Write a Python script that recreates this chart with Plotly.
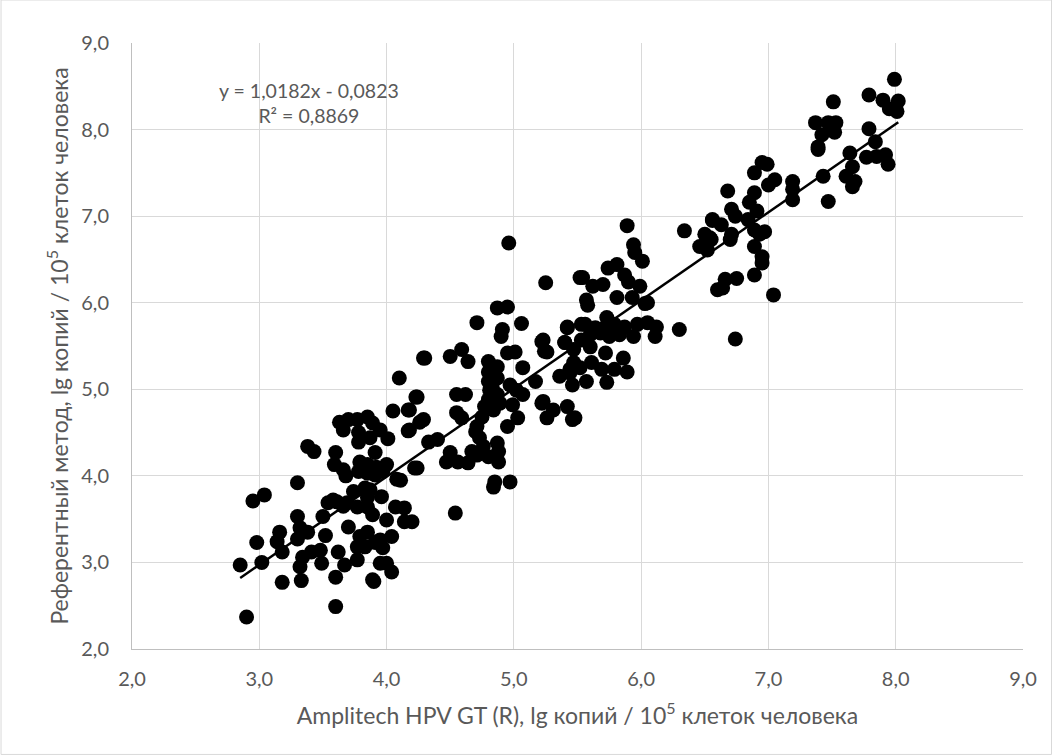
import plotly.graph_objects as go

# Data
amplitech_x = [
    2.85, 2.90, 2.95, 3.04, 2.98, 3.02, 3.16, 3.14, 3.18, 3.18, 3.30, 3.38, 3.43, 3.30, 3.32,
    3.38, 3.30, 3.34, 3.32, 3.33, 3.41, 3.48, 3.49, 3.52, 3.50, 3.54, 3.58, 3.61, 3.66, 3.62,
    3.60, 3.60, 3.70, 3.67, 3.60, 3.59, 3.66, 3.68, 3.63, 3.66, 3.70, 3.77, 3.85, 3.89, 3.95,
    3.78, 3.78, 3.87, 4.01, 4.05, 4.18, 4.24, 4.26, 3.91, 3.79, 3.85, 3.92, 4.00, 3.78, 3.85,
    3.91, 3.97, 4.08, 4.22, 3.74, 3.83, 3.87, 3.85, 3.96, 3.69, 3.77, 3.85, 3.89, 4.00, 4.07,
    3.79, 3.85, 3.77, 3.83, 3.91, 3.95, 4.04, 3.97, 3.77, 3.95, 4.00, 4.04, 3.89, 3.90, 4.14,
    4.20, 4.10, 4.29, 4.17,
    4.87, 4.95, 4.71, 4.91, 4.90, 5.06, 5.42, 5.53, 5.22, 5.26, 5.40, 4.30, 4.50, 4.59, 4.64,
    4.80, 4.95, 5.01, 5.07, 4.80, 4.87, 4.80, 4.87, 4.97, 5.02, 5.07, 5.17, 5.36, 5.44, 5.46,
    4.81, 4.87, 4.80, 4.84, 4.99, 5.03, 4.95, 5.22, 5.31, 5.26, 5.42, 5.46, 4.55, 4.62, 4.55,
    4.59, 4.23, 4.17, 4.29, 4.18, 4.33, 4.40, 4.24, 4.70, 4.73, 4.67, 4.76, 4.50, 4.47, 4.56,
    4.64, 4.71, 4.80, 4.87, 4.88, 4.88, 4.85, 4.84, 4.97, 4.54, 4.11, 4.14, 4.83, 4.89, 4.77,
    4.75, 4.71, 4.96, 5.25, 5.52,
    5.89, 6.34, 6.56, 6.50, 6.46, 6.55, 5.94, 5.95, 6.01, 5.74, 5.81, 5.87, 5.90, 5.99, 5.54,
    5.62, 5.70, 5.57, 5.58, 5.81, 5.93, 6.05, 5.73, 5.56, 5.64, 5.72, 5.79, 5.87, 5.97, 6.05,
    6.12, 6.11, 6.30, 5.94, 5.83, 5.75, 5.68, 5.60, 5.42, 5.53, 5.23, 5.40, 5.24, 5.47, 5.60,
    5.72, 5.86, 5.47, 5.61, 5.52, 5.79, 5.89, 5.69, 5.44, 5.57, 5.73, 5.23, 5.48, 6.60, 6.03,
    6.74,
    6.95, 6.99, 6.89, 7.05, 7.00, 7.19, 7.19, 7.19, 7.43, 7.47, 7.39, 6.68, 6.89, 6.85, 6.91,
    6.71, 6.74, 6.84, 6.56, 6.63, 6.54, 6.71, 6.70, 6.52, 6.89, 6.97, 6.93, 6.89, 6.95, 6.95,
    6.89, 6.66, 6.75, 6.64, 7.04,
    7.99, 7.79, 7.90, 8.02, 7.95, 8.01, 7.51, 7.37, 7.47, 7.53, 7.50, 7.42, 7.52, 7.39, 7.79,
    7.84, 7.64, 7.77, 7.85, 7.92, 7.94, 7.66, 7.61, 7.68, 7.66,
]
reference_y = [
    2.97, 2.37, 3.71, 3.78, 3.23, 3.00, 3.35, 3.24, 3.12, 2.77, 3.92, 4.34, 4.28, 3.53, 3.40,
    3.35, 3.27, 3.06, 2.95, 2.79, 3.12, 3.14, 2.99, 3.31, 3.53, 3.69, 3.72, 3.70, 3.65, 3.12,
    2.83, 2.49, 3.41, 2.97, 4.27, 4.13, 4.07, 4.00, 4.62, 4.53, 4.65, 4.65, 4.68, 4.61, 4.53,
    4.50, 4.39, 4.44, 4.43, 4.75, 4.76, 4.91, 4.62, 4.27, 4.16, 4.13, 4.10, 4.13, 4.05, 4.03,
    4.01, 4.05, 3.96, 4.09, 3.82, 3.86, 3.84, 3.75, 3.76, 3.69, 3.64, 3.64, 3.55, 3.49, 3.64,
    3.30, 3.35, 3.18, 3.18, 3.23, 3.26, 3.30, 3.17, 3.03, 2.99, 2.99, 2.89, 2.80, 2.78, 3.47,
    3.47, 5.13, 5.36, 4.52,
    5.94, 5.95, 5.77, 5.69, 5.61, 5.76, 5.71, 5.75, 5.55, 5.43, 5.54, 5.36, 5.38, 5.46, 5.32,
    5.32, 5.42, 5.43, 5.25, 5.20, 5.26, 5.09, 5.13, 5.05, 4.99, 4.94, 5.09, 5.15, 5.23, 5.05,
    4.99, 4.94, 4.88, 4.76, 4.82, 4.67, 4.57, 4.84, 4.76, 4.67, 4.80, 4.65, 4.94, 4.94, 4.73,
    4.67, 4.91, 4.76, 4.65, 4.53, 4.39, 4.42, 4.09, 4.51, 4.44, 4.28, 4.34, 4.27, 4.16, 4.16,
    4.15, 4.24, 4.22, 4.38, 4.28, 4.16, 3.93, 3.87, 3.93, 3.57, 3.95, 3.63, 5.02, 4.84, 4.80,
    4.68, 4.57, 6.69, 6.23, 6.29,
    6.89, 6.83, 6.95, 6.79, 6.65, 6.73, 6.67, 6.58, 6.48, 6.40, 6.44, 6.32, 6.24, 6.19, 6.29,
    6.19, 6.21, 6.03, 5.97, 6.06, 6.06, 6.00, 5.83, 5.75, 5.71, 5.72, 5.75, 5.72, 5.75, 5.77,
    5.72, 5.61, 5.69, 5.61, 5.63, 5.61, 5.65, 5.63, 5.72, 5.57, 5.57, 5.54, 5.44, 5.46, 5.49,
    5.42, 5.36, 5.31, 5.31, 5.25, 5.23, 5.20, 5.23, 5.19, 5.09, 5.08, 4.86, 4.67, 6.15, 5.99,
    5.58,
    7.62, 7.60, 7.50, 7.42, 7.36, 7.40, 7.31, 7.19, 7.46, 7.17, 7.77, 7.29, 7.27, 7.16, 7.06,
    7.08, 7.00, 6.96, 6.96, 6.90, 6.75, 6.79, 6.73, 6.61, 6.84, 6.82, 6.79, 6.65, 6.53, 6.46,
    6.32, 6.27, 6.28, 6.17, 6.09,
    8.58, 8.40, 8.34, 8.33, 8.24, 8.21, 8.32, 8.08, 8.08, 8.08, 8.00, 7.94, 7.97, 7.80, 8.01,
    7.86, 7.73, 7.68, 7.69, 7.71, 7.60, 7.57, 7.46, 7.40, 7.34,
]

slope = 1.0182
intercept = -0.0823
equation_text = "y = 1,0182x - 0,0823"
r2_text = "R² = 0,8869"
x_title = "Amplitech HPV GT (R), lg копий / 10<sup>5</sup> клеток человека"
y_title = "Референтный метод, lg копий / 10<sup>5</sup> клеток человека"

x_min, x_max = min(amplitech_x), max(amplitech_x)
trend_x = [x_min, x_max]
trend_y = [slope * v + intercept for v in trend_x]

FONT = "Lato, Carlito, 'Open Sans', sans-serif"
GRAY = "#595959"

fig = go.Figure()
fig.add_trace(go.Scatter(
    x=amplitech_x, y=reference_y, mode="markers",
    marker=dict(size=15, color="black", line=dict(width=0)),
    showlegend=False, hoverinfo="x+y",
))
fig.add_trace(go.Scatter(
    x=trend_x, y=trend_y, mode="lines",
    line=dict(color="black", width=2.5),
    showlegend=False, hoverinfo="skip",
))

fig.add_annotation(
    x=0.199, y=0.901, xref="paper", yref="paper",
    xanchor="center", yanchor="middle",
    text=equation_text + "<br>" + r2_text,
    showarrow=False, align="center",
    font=dict(family=FONT, size=19.5, color=GRAY),
)

fig.add_shape(
    type="rect", xref="paper", yref="paper",
    x0=-0.147, x1=1.032, y0=-0.174, y1=1.071,
    line=dict(color="#d9d9d9", width=1), fillcolor="rgba(0,0,0,0)", layer="below",
)

fig.update_layout(
    width=1053, height=756, autosize=False,
    margin=dict(l=132, r=30, t=43, b=107),
    paper_bgcolor="white", plot_bgcolor="white",
    separators=", ",
    font=dict(family=FONT, color=GRAY, size=20),
    xaxis=dict(
        range=[2, 9], tick0=2, dtick=1, tickformat=".1f",
        showgrid=True, gridcolor="#d9d9d9", gridwidth=1,
        showline=True, linecolor="#bfbfbf", linewidth=1,
        zeroline=False, ticks="", ticklabelstandoff=12,
        tickfont=dict(family=FONT, size=20, color=GRAY),
        title=dict(text=x_title, font=dict(family=FONT, size=23, color=GRAY), standoff=18),
    ),
    yaxis=dict(
        range=[2, 9], tick0=2, dtick=1, tickformat=".1f",
        showgrid=True, gridcolor="#d9d9d9", gridwidth=1,
        showline=True, linecolor="#bfbfbf", linewidth=1,
        zeroline=False, ticks="", ticklabelstandoff=18,
        tickfont=dict(family=FONT, size=20, color=GRAY),
        title=dict(text=y_title, font=dict(family=FONT, size=23, color=GRAY), standoff=6),
    ),
)

fig.write_html(
    "out.html",
    config={"displayModeBar": False},
    post_script="document.body.style.margin='0';document.body.style.overflow='hidden';",
)
